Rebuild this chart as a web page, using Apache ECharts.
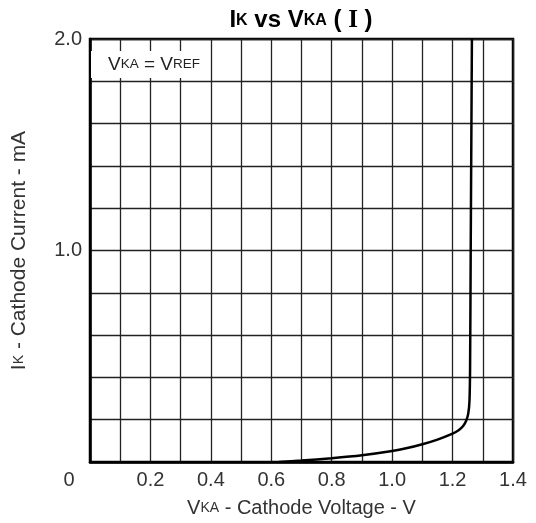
<!DOCTYPE html>
<html>
<head>
<meta charset="utf-8">
<script src="https://cdn.jsdelivr.net/npm/echarts@6/dist/echarts.min.js"></script>
<style>html,body{margin:0;padding:0;background:#fff}#c{width:536px;height:523px}</style>
</head>
<body>
<div id="c"></div>
<script>
// Data (VKA in V, IK in mA)
const vka = [0.625, 0.70, 0.80, 0.90, 1.00, 1.05, 1.10, 1.15, 1.20, 1.22, 1.235, 1.245, 1.252, 1.256, 1.258, 1.260, 1.262, 1.264];
const ik  = [0.000, 0.007, 0.018, 0.032, 0.052, 0.066, 0.084, 0.106, 0.134, 0.150, 0.170, 0.195, 0.230, 0.290, 0.450, 1.000, 1.500, 2.000];
const xTickLabels = ['0', '0.2', '0.4', '0.6', '0.8', '1.0', '1.2', '1.4'];
const yTickLabels = ['1.0', '2.0'];

const chart = echarts.init(document.getElementById('c'), null, {renderer: 'canvas'});
const font = 'Liberation Sans, Arial, sans-serif';
const txt = '#333';

chart.setOption({
  animation: false,
  backgroundColor: '#fff',
  title: {
    text: '{b|I}{bs|K}{b| vs V}{bs|KA}{b| ( }{r|I}{b| )}',
    left: 296, textAlign: 'center', top: 3,
    textStyle: {
      rich: {
        b: {fontFamily: font, fontWeight: 'bold', fontSize: 24, color: '#000'},
        bs: {fontFamily: font, fontWeight: 'bold', fontSize: 16, color: '#000'},
        r: {fontFamily: 'Liberation Serif, serif', fontWeight: 'bold', fontSize: 25, color: '#000'}
      }
    }
  },
  legend: {
    left: 91, top: 51,
    padding: [4, 2, 4, 12],
    itemWidth: 0, itemHeight: 0, itemGap: 0,
    backgroundColor: '#fff',
    selectedMode: false,
    data: [{name: 'curve', icon: 'none'}],
    formatter: () => '{v|V}{s|KA}{v| = V}{s|REF}',
    textStyle: {
      rich: {
        v: {fontFamily: font, fontSize: 19, color: '#222', lineHeight: 20},
        s: {fontFamily: font, fontSize: 13.5, color: '#222', lineHeight: 20}
      }
    }
  },
  grid: {
    left: 90, right: 23, top: 39, bottom: 61,
    show: true, borderColor: '#000', borderWidth: 2.5
  },
  xAxis: {
    type: 'value', min: 0, max: 1.4, interval: 0.1,
    axisLine: {show: true, lineStyle: {color: '#000', width: 2.5}},
    axisTick: {show: false},
    splitLine: {show: true, lineStyle: {color: '#222', width: 1.3}},
    axisLabel: {
      margin: 8,
      fontFamily: font, fontSize: 20, color: txt,
      formatter: function (v) {
        const s = v.toFixed(1);
        if (Math.abs(v) < 1e-9) return '{z|' + xTickLabels[0] + '}';
        return xTickLabels.indexOf(s) >= 0 ? s : '';
      },
      rich: {z: {fontFamily: font, fontSize: 20, color: txt, padding: [0, 42, 0, 0]}}
    },
    name: '{n|V}{s|KA}{n| - Cathode Voltage - V}',
    nameLocation: 'middle', nameGap: 36,
    nameTextStyle: {
      rich: {
        n: {fontFamily: font, fontSize: 20, color: txt},
        s: {fontFamily: font, fontSize: 14, color: txt}
      }
    }
  },
  yAxis: {
    type: 'value', min: 0, max: 2, interval: 0.2,
    axisLine: {show: true, lineStyle: {color: '#000', width: 2.5}},
    axisTick: {show: false},
    splitLine: {show: true, lineStyle: {color: '#222', width: 1.3}},
    axisLabel: {
      margin: 8,
      fontFamily: font, fontSize: 20, color: txt,
      formatter: function (v) {
        const s = v.toFixed(1);
        return yTickLabels.indexOf(s) >= 0 ? s : '';
      }
    },
    name: '{n|I}{s|K}{n| - Cathode Current - mA}',
    nameLocation: 'middle', nameGap: 60, nameRotate: 90,
    nameTextStyle: {
      rich: {
        n: {fontFamily: font, fontSize: 21, color: txt},
        s: {fontFamily: font, fontSize: 14, color: txt}
      }
    }
  },
  series: [{
    name: 'curve',
    type: 'line',
    data: vka.map((v, i) => [v, ik[i]]),
    showSymbol: false,
    smooth: 0.25,
    lineStyle: {color: '#000', width: 2.5},
    z: 3
  }]
});
</script>
</body>
</html>
